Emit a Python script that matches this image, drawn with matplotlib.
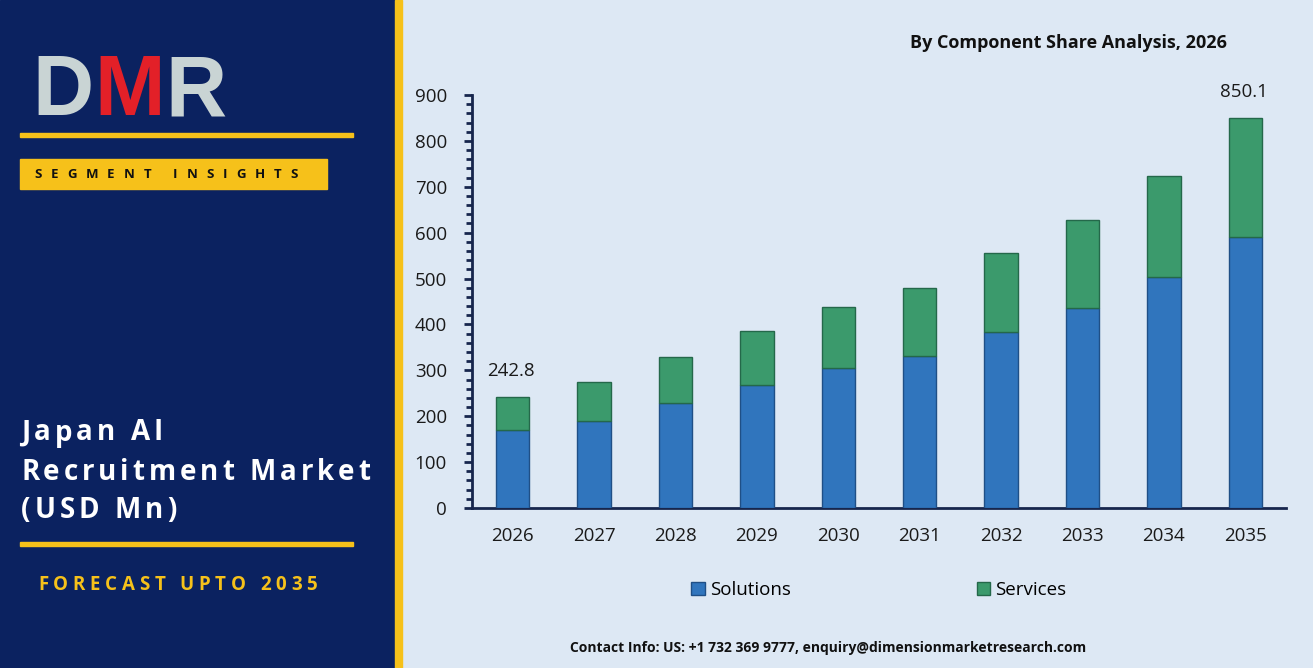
import matplotlib
matplotlib.use("Agg")
import matplotlib.pyplot as plt
from matplotlib.patches import Rectangle
from matplotlib.ticker import MultipleLocator
import numpy as np

years = ["2026", "2027", "2028", "2029", "2030", "2031", "2032", "2033", "2034", "2035"]
solutions = [169.0, 188.5, 228.5, 268.0, 304.5, 332.0, 383.0, 435.5, 503.0, 591.0]
totals = [242.8, 273.5, 329.5, 386.0, 438.5, 480.0, 555.0, 627.5, 724.0, 850.1]
services = [t - s for t, s in zip(totals, solutions)]

NAVY = "#0b2260"
YELLOW = "#f6c11a"
BG = "#dde8f4"
BLUE = "#3075bd"
GREEN = "#3b9a6c"

W, H = 1313, 668
fig = plt.figure(figsize=(W / 100, H / 100), dpi=100)
fig.patch.set_facecolor(BG)


def px(x, y):
    # pixel coords (top-left origin) -> figure fraction
    return x / W, 1 - y / H


# left panel
fig.patches.append(Rectangle((0, 0), 395 / W, 1, transform=fig.transFigure, color=NAVY, zorder=0))
fig.patches.append(Rectangle((395 / W, 0), 7 / W, 1, transform=fig.transFigure, color=YELLOW, zorder=0))

renderer = fig.canvas.get_renderer()


def spaced_text(x, y, s, size, spacing, **kw):
    # draw text char by char with extra letter spacing (pixels)
    for ch in s:
        if ch == " ":
            x += size * 1.389 * 0.28 + spacing
            continue
        t = fig.text(*px(x, y), ch, fontsize=size, va="center", ha="left", **kw)
        w = t.get_window_extent(renderer).width
        x += w + spacing
    return x


# DMR logo, letters placed side by side
lx = 32
for ch, col in zip("DMR", ["#c9d4d4", "#e32028", "#c9d4d4"]):
    t = fig.text(*px(lx, 115), ch, color=col, fontsize=61, fontweight="bold", va="baseline", ha="left",
                 family="Liberation Sans")
    lx += t.get_window_extent(renderer).width + 1

# yellow lines and box
for yy in (135, 544):
    fig.patches.append(Rectangle(px(20, yy + 2), 333 / W, 4 / H, transform=fig.transFigure, color=YELLOW, zorder=1))
fig.patches.append(Rectangle(px(20, 189), 307 / W, 30 / H, transform=fig.transFigure, color=YELLOW, zorder=1))
spaced_text(34, 175, "SEGMENT INSIGHTS", 9.5, 9.0, color="#111111", fontweight="bold", family="Open Sans")

for i, line in enumerate(["Japan AI", "Recruitment Market", "(USD Mn)"]):
    spaced_text(21, 433 + i * 39, line, 20, 3.9, color="white", fontweight="bold", family="Open Sans")

spaced_text(38, 585, "FORECAST UPTO 2035", 13.5, 4.7, color=YELLOW, fontweight="bold", family="Open Sans")

# chart
ax = fig.add_axes([472 / W, 160 / H, 814 / W, 413 / H])
ax.set_facecolor(BG)
x = np.arange(len(years))
bw = 0.41
ax.bar(x, solutions, bw, color=BLUE, edgecolor="#1f4f86", linewidth=1, label="Solutions", zorder=3)
ax.bar(x, services, bw, bottom=solutions, color=GREEN, edgecolor="#24684a", linewidth=1, label="Services", zorder=3)

ax.set_xlim(-0.5, len(years) - 0.5)
ax.set_ylim(0, 900)
ax.yaxis.set_major_locator(MultipleLocator(100))
ax.yaxis.set_minor_locator(MultipleLocator(20))
ax.set_xticks(x)
ax.set_xticklabels(years)
for sp in ("top", "right"):
    ax.spines[sp].set_visible(False)
for sp in ("left", "bottom"):
    ax.spines[sp].set_color("#17264d")
    ax.spines[sp].set_linewidth(2)
ax.tick_params(axis="x", length=0, pad=14, labelsize=13.5, labelcolor="#1a1a1a")
ax.tick_params(axis="y", which="major", length=6, width=2, color="#17264d", pad=12, labelsize=13.5, labelcolor="#1a1a1a")
ax.tick_params(axis="y", which="minor", length=4, width=2, color="#17264d")
for lab in ax.get_xticklabels() + ax.get_yticklabels():
    lab.set_family("Open Sans")

for i in (0, len(years) - 1):
    ax.annotate(f"{totals[i]:.1f}", (x[i], totals[i]), xytext=(-1, 12), textcoords="offset points",
                ha="center", va="bottom", fontsize=13.5, family="Open Sans", color="#1a1a1a")

leg = fig.legend(loc="center", bbox_to_anchor=(879 / W, 1 - 590 / H), ncol=2, frameon=False,
                 handlelength=0.7, handleheight=0.7, handletextpad=0.3, columnspacing=9.9,
                 prop={"family": "Open Sans", "size": 13.5})

fig.text(*px(1068, 43), "By Component Share Analysis, 2026", ha="center", va="center",
         fontsize=13, fontweight="bold", family="Open Sans", color="#111111")
fig.text(*px(828, 648), "Contact Info: US: +1 732 369 9777, enquiry@dimensionmarketresearch.com", ha="center",
         va="center", fontsize=10, fontweight="bold", family="Open Sans", color="#111111")

fig.savefig("out.png", dpi=100, facecolor=fig.get_facecolor())
